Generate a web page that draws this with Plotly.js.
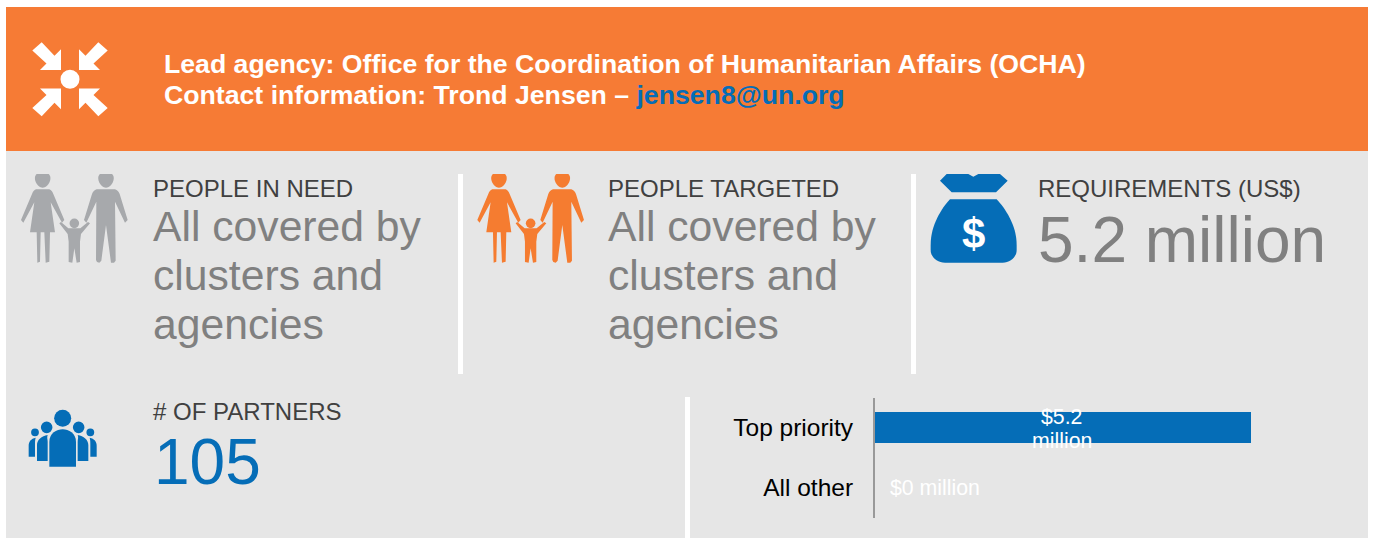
<!DOCTYPE html>
<html>
<head>
<meta charset="utf-8">
<script src="https://cdn.plot.ly/plotly-3.0.1.min.js"></script>
<style>html,body{margin:0;padding:0;background:#fff}#sheet{width:1373px;height:538px}</style>
</head>
<body>
<div id="sheet"></div>
<script>
// Funding split
const priorityCategories = ['Top priority', 'All other'];
const fundingMillions = [5.2, 0];

// Headline figures
const leadLine = 'Lead agency: Office for the Coordination of Humanitarian Affairs (OCHA)';
const contactLine = 'Contact information: Trond Jensen – ';
const contactEmail = 'jensen8@un.org';
const coveredLines = ['All covered by', 'clusters and', 'agencies'];
const requirementsMillions = 5.2;
const partnerCount = 105;

const W = 1373, H = 538;
const ORANGE = '#F67B35', PANEL = '#E6E6E6', BLUE = '#056DB7', SLATE = '#A7A9AC';
const FIGURE_ORANGE = '#F57C30', BIG_GREY = '#808080', LABEL_GREY = '#404040';
const FONT = '"Liberation Sans", Arial, sans-serif';

const fx = x => x / W;
const fy = y => 1 - y / H;

// Rewrites "x,y" pairs of a pixel-space path into paper fractions.
function toPaper(path, map) {
  return path.replace(/(-?[\d.]+),(-?[\d.]+)/g, (_, a, b) => {
    const p = map(+a, +b);
    return fx(p[0]).toFixed(5) + ',' + fy(p[1]).toFixed(5);
  });
}
function glyph(path, color, map) {
  return {type: 'path', xref: 'paper', yref: 'paper', layer: 'below',
          path: toPaper(path, map || ((x, y) => [x, y])),
          fillcolor: color, line: {width: 0}};
}
function box(x0, y0, x1, y1, color) {
  return {type: 'rect', xref: 'paper', yref: 'paper', layer: 'below',
          x0: fx(x0), x1: fx(x1), y0: fy(y0), y1: fy(y1),
          fillcolor: color, line: {width: 0}};
}
function disc(cx, cy, r, color) {
  return {type: 'circle', xref: 'paper', yref: 'paper', layer: 'below',
          x0: fx(cx - r), x1: fx(cx + r), y0: fy(cy - r), y1: fy(cy + r),
          fillcolor: color, line: {width: 0}};
}

// Four arrows converging on a dot
function convergeIcon() {
  const cx = 70, cy = 79.3;
  const arrow = 'M41.7,42.3 L54.5,55.8 L61,49.3 L61,70 L40,70 L46.5,63.5 L32.3,50.5 Z';
  const out = [disc(cx, cy, 9.5, '#fff')];
  [[1, 1], [-1, 1], [1, -1], [-1, -1]].forEach(([sx, sy]) => {
    out.push(glyph(arrow, '#fff', (x, y) => [cx + sx * (x - cx), cy + sy * (y - cy)]));
  });
  return out;
}

// Woman, man and child holding hands; heads are cut flat by the top of the icon
function familyIcon(dx, color) {
  const m = (x, y) => [x / 3 + dx, y / 3];
  const head = (cx, cy, r) => 'M' + (cx - r * 0.72) + ',522 ' +
    'C' + (cx - r * 1.25) + ',' + (cy - r * 0.2) + ' ' + (cx - r * 0.7) + ',' + (cy + r) + ' ' + cx + ',' + (cy + r) +
    ' C' + (cx + r * 0.7) + ',' + (cy + r) + ' ' + (cx + r * 1.25) + ',' + (cy - r * 0.2) + ' ' + (cx + r * 0.72) + ',522 Z';
  const woman = 'M108,568 L148,568 C154,570 157,575 160,582 L193,660 L186,668 L152,607 L165,697 L150,697 ' +
    'L148,785 L137,788 L133,697 L122,697 L120,785 L112,788 L110,697 L90,697 L103,607 L70,668 L63,660 L96,582 C99,575 102,570 108,568 Z';
  const man = 'M290,568 L345,568 C352,570 356,575 359,582 L383,660 L375,668 L345,605 L347,782 L342,788 L333,788 L318,675 ' +
    'L304,782 L298,788 L291,786 L288,780 L289,605 L259,668 L252,660 L276,582 C279,575 283,570 290,568 Z';
  const child = 'M178,670 L183,666 L205,685 L241,685 L264,666 L270,670 L243,702 L240,725 L240,786 L230,788 L223,745 L217,788 L206,786 L206,725 L203,702 Z';
  return [
    glyph(head(128, 538, 25), color, m),
    glyph(head(318, 538, 25), color, m),
    glyph(woman, color, m),
    glyph(man, color, m),
    glyph(child, color, m),
    disc(223 / 3 + dx, 670 / 3, 4.8, color)
  ];
}

// Money bag with a knotted neck
function bagIcon() {
  const m = (x, y) => [x / 3 + 910, y / 3 + 160];
  const neck = 'M110,42 L90,62 L125,97 L258,97 L293,62 L270,42 L205,42 L190,50 L175,42 Z';
  const sack = 'M120,118 L260,118 C285,145 320,195 320,255 L320,270 C320,292 300,308 278,308 L105,308 C82,308 62,292 62,270 L62,255 C62,195 95,145 120,118 Z';
  return [glyph(neck, BLUE, m), glyph(sack, BLUE, m)];
}

// Group of five people, tallest in front
function crowdIcon() {
  const m = (x, y) => [x / 3, y / 3 + 395];
  const mirror = (x, y) => [(376 - x) / 3, y / 3 + 395];
  const front = 'M148,215 L148,140 C148,115 170,103 188,103 C206,103 228,115 228,140 L228,215 Z';
  const middle = 'M111,198 L111,150 C111,135 125,122 143,120 C140,128 143,133 143,140 L143,198 Z';
  const back = 'M86,185 L86,152 C86,140 93,131 107,128 C105,135 105,140 105,150 L105,185 Z';
  return [
    disc(188 / 3, 70 / 3 + 395, 8.5, BLUE), glyph(front, BLUE, m),
    disc(140 / 3, 97 / 3 + 395, 5.8, BLUE), glyph(middle, BLUE, m),
    disc(236 / 3, 97 / 3 + 395, 5.8, BLUE), glyph(middle, BLUE, mirror),
    disc(105 / 3, 112 / 3 + 395, 3.9, BLUE), glyph(back, BLUE, m),
    disc(271 / 3, 112 / 3 + 395, 3.9, BLUE), glyph(back, BLUE, mirror)
  ];
}

const shapes = [
  box(6, 7, 1368, 151, ORANGE),
  box(6, 151, 1368, 538, PANEL),
  box(458, 174, 463, 374, '#fff'),
  box(911, 174, 916, 374, '#fff'),
  box(685, 397, 690, 538, '#fff'),
  ...convergeIcon(),
  ...familyIcon(0, SLATE),
  ...familyIcon(456.3, FIGURE_ORANGE),
  ...bagIcon(),
  ...crowdIcon()
];

// Text placed by its left edge and vertical centre, in page pixels
function label(text, x, y, size, color, extra) {
  return Object.assign({
    text, xref: 'paper', yref: 'paper', x: fx(x), y: fy(y),
    xanchor: 'left', yanchor: 'middle', showarrow: false,
    align: 'left', borderpad: 0,
    font: {family: FONT, size, color}
  }, extra || {});
}

const annotations = [
  label('<b>' + leadLine + '</b>', 163, 64, 26.67, '#fff'),
  label('<b>' + contactLine + '<span style="color:' + BLUE + '">' + contactEmail + '</span></b>', 163, 95, 26.67, '#fff'),
  label('PEOPLE IN NEED', 152, 188, 24, LABEL_GREY),
  label('PEOPLE TARGETED', 607, 188, 24, LABEL_GREY),
  label('REQUIREMENTS (US$)', 1037, 188, 24, LABEL_GREY),
  label('# OF PARTNERS', 152, 411, 24, LABEL_GREY),
  label(requirementsMillions + ' million', 1037, 240, 64, BIG_GREY),
  label(String(partnerCount), 153, 462, 64, BLUE),
  label('<b>$</b>', 973, 233, 42, '#fff', {xanchor: 'center'})
];
coveredLines.forEach((line, i) => {
  annotations.push(label(line, 152, 226 + i * 49, 42.67, BIG_GREY));
  annotations.push(label(line, 607, 226 + i * 49, 42.67, BIG_GREY));
});

// Bar value labels: wrapped and centred inside a bar, single-line past a bar of zero
const dollarText = v => '$' + v + ' million';
priorityCategories.forEach((cat, i) => {
  const v = fundingMillions[i];
  const common = {xref: 'x', yref: 'y', y: cat, showarrow: false,
                  font: {family: FONT, size: 21.3, color: '#fff'}};
  if (v > 0) {
    dollarText(v).split(' ').forEach((word, k) => {
      annotations.push(Object.assign({}, common, {text: word, x: v / 2, xshift: -1.5, xanchor: 'center', yanchor: 'middle', yshift: 11 - k * 24}));
    });
  } else {
    annotations.push(Object.assign({}, common, {text: dollarText(v), x: v, xanchor: 'left', yanchor: 'middle', xshift: 13}));
  }
});

const barTrace = {
  type: 'bar', orientation: 'h',
  x: fundingMillions, y: priorityCategories,
  marker: {color: BLUE, line: {width: 0}},
  hoverinfo: 'skip', cliponaxis: false
};

const layout = {
  width: W, height: H,
  margin: {l: 0, r: 0, t: 0, b: 0, pad: 0},
  paper_bgcolor: '#fff', plot_bgcolor: 'rgba(0,0,0,0)',
  showlegend: false, bargap: 0.48,
  xaxis: {domain: [fx(875), fx(1261)], range: [0, 5.2 * 386 / 376], visible: false, fixedrange: true},
  yaxis: {
    domain: [fy(517.5), fy(397.5)], type: 'category', autorange: 'reversed', fixedrange: true,
    showgrid: false, zeroline: false, showline: true, linecolor: '#999', linewidth: 2,
    ticks: '', ticklabelstandoff: 15,
    tickfont: {family: FONT, size: 24.5, color: '#000'}
  },
  shapes, annotations
};

Plotly.newPlot('sheet', [barTrace], layout, {displayModeBar: false, staticPlot: true});
</script>
</body>
</html>
